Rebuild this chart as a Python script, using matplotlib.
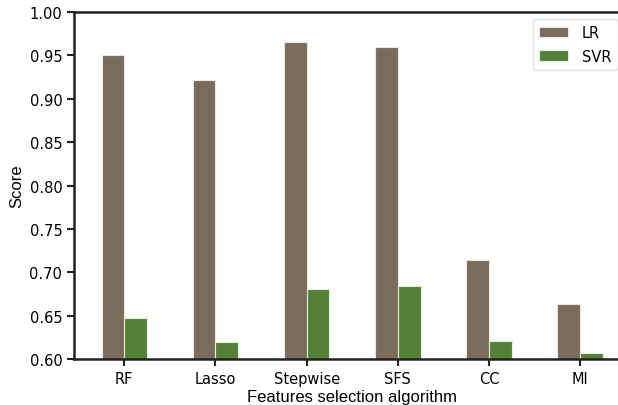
import matplotlib.pyplot as plt
import numpy as np

plt.rcParams['font.family'] = 'DejaVu Sans'

algorithms = ['RF', 'Lasso', 'Stepwise', 'SFS', 'CC', 'MI']
lr_scores = [0.951, 0.922, 0.965, 0.960, 0.714, 0.663]
svr_scores = [0.647, 0.620, 0.681, 0.684, 0.621, 0.607]

lr_color = '#7B6B5D'
svr_color = '#548137'

fig = plt.figure(figsize=(6.18, 4.06), dpi=100)
ax = fig.add_axes([0.12, 0.113, 0.90, 0.855])

x = np.arange(len(algorithms))
w = 0.25
ax.bar(x - w/2, lr_scores, w, color=lr_color, edgecolor='#EDE6DF', linewidth=0.8, label='LR')
ax.bar(x + w/2, svr_scores, w, color=svr_color, edgecolor='#E3EFD9', linewidth=0.8, label='SVR')

ax.set_ylim(0.60, 1.00)
ax.set_xlim(-0.55, 5.55)
ax.set_yticks(np.arange(0.60, 1.001, 0.05))
ax.set_xticks(x)
ax.set_xticklabels(algorithms)
ax.tick_params(axis='both', labelsize=10.5, width=1.5, length=5, color='#222222')

for side in ['left', 'bottom', 'top']:
    ax.spines[side].set_linewidth(1.8)
    ax.spines[side].set_color('#222222')
ax.spines['right'].set_visible(False)

ax.set_ylabel('Score', fontsize=12, family='Liberation Sans')
ax.set_xlabel('Features selection algorithm', fontsize=12, family='Liberation Sans', labelpad=2)

leg = ax.legend(loc='upper right', fontsize=10.5, bbox_to_anchor=(0.977, 0.98), borderaxespad=0,
                handlelength=2.0, labelspacing=0.55, borderpad=0.45, handletextpad=0.9)
leg.get_frame().set_edgecolor('#DDDDDD')

plt.savefig('out.png', dpi=100)
